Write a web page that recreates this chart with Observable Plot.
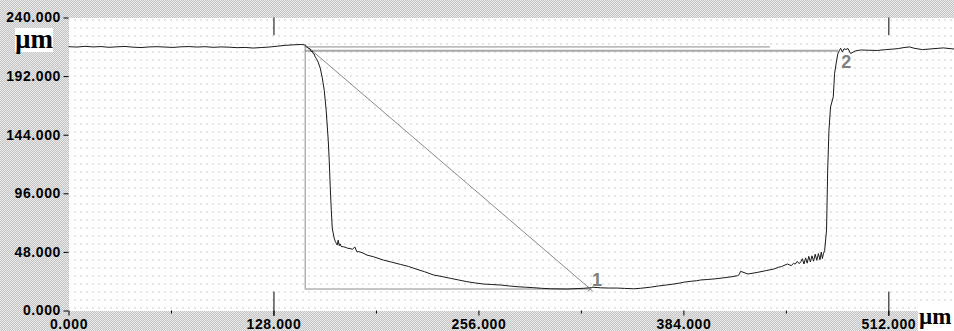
<!DOCTYPE html>
<html>
<head>
<meta charset="utf-8">
<script src="https://cdn.jsdelivr.net/npm/d3@7"></script>
<script src="https://cdn.jsdelivr.net/npm/@observablehq/plot@0.6"></script>
<style>
  html, body { margin: 0; padding: 0; background: #fff; }
  #wrap { position: relative; width: 954px; height: 331px; overflow: hidden;
    background: repeating-conic-gradient(#c4c4c4 0 25%, #e9e9e9 0 50%) 0 0 / 2px 2px; }
  #wrap svg { display: block; background: transparent !important; }
  .unit { position: absolute; background: #fff; font-family: "Liberation Serif", "DejaVu Serif", serif;
    font-weight: bold; font-size: 27px; line-height: 22px; color: #000; }
</style>
</head>
<body>
<div id="wrap"></div>
<script>
// ---- data (µm) ----
const profileX = [0,5,10,15,20,25,30,35,40,45,50,55,60,65,70,75,80,85,90,95,100,105,110,115,120,125,130,135,140,145,147,
  148.3,149.4,150.6,151.2,151.9,152.5,153.1,153.8,154.4,155.6,156.9,158.1,159.4,160.6,161.9,162.5,163.1,163.8,164.4,165.6,166.3,166.9,167.5,168.1,168.8,169.4,170,171.4,173,174,175.5,177,178.5,179.8,181,183,186.1,190,196.4,201,206.9,212,217.3,222,227.7,233,238.1,243,248.5,254,258.9,264,269.4,275,279.8,285,290.2,295,300.6,306,311.1,316,321.5,325,327.7,332,337,342.3,347,352.7,357,363.1,368,373.6,377.7,381,384,388.1,392,394.4,398.6,404,409,414,417.5,418.5,419.4,424,429.8,435,440.2,443,445,448.6,451,452.5,453.5,454.8,456,457,458,459,460,461,462,463,464,465,466,467,468,469,469.8,470.5,471.1,471.9,473.1,473.8,474.6,475.6,477.3,478.1,479.4,480.2,481.2,481.9,483,484,485.2,486.5,488.1,491,494.4,499,504.8,510,515.2,518,521.5,525,527.8,533,540.2,546,552.7];
const profileY = [216.5,216.2,216.8,216.3,216.6,216.0,216.4,216.7,216.1,215.8,216.3,216.5,216.2,215.9,216.4,216.6,216.2,216.5,216.0,216.3,216.1,215.7,215.9,215.4,215.8,216.2,216.9,217.6,218.0,218.3,218.0,
  216.5,215.2,214.6,212.5,213.0,210.8,210.5,208.0,207.0,203.8,198.9,191.5,180.8,164.5,139.9,123.6,103.1,82.6,67.9,59.7,57.0,55.5,54.0,58.0,53.5,55.0,52.8,52.6,52.0,51.4,51.2,50.5,52.5,48.5,48.6,47.8,45.8,44.5,41.7,40.2,38.2,36.5,34.1,32.2,29.5,28.2,26.8,25.5,24.0,22.9,22.1,21.7,21.3,20.5,19.9,19.5,19.1,18.6,18.2,18.1,18.0,18.3,18.6,19.0,19.4,19.0,18.8,18.8,18.5,18.2,18.6,19.5,20.5,21.4,22.1,22.8,23.6,24.3,24.8,25.4,25.8,26.4,27.2,28.1,28.9,29.7,32.5,30.3,31.6,33.0,34.4,35.8,36.4,38.5,37.2,39.0,38.4,40.6,38.8,40.3,42.8,38.5,43.5,39.2,44.8,40.2,45.2,40.8,46.5,41.5,47.0,42.0,48.2,43.0,46.8,49.5,66.3,115.4,148.1,167.2,175.4,194.5,205.4,210.9,213.6,215.2,212.2,214.8,214.2,215.0,210.9,213.0,213.8,213.6,213.4,214.1,214.6,215.0,215.8,216.3,215.2,214.1,214.9,215.5,214.6,212.2];

const yTicks = [0, 48, 96, 144, 192, 240];
const xTicks = [0, 128, 256, 384, 512];
const xMinorTicks = [64, 192, 320, 448];
const cursorTicks = [128, 512];

// measurement cursors
const leftX = 147.5, leftY = 218.0;
const cursor1 = {x: 325.6, y: 18.0, label: "1"};
const cursor2 = {x: 480.6, y: 213.2, label: "2"};
const refLineEnd = 438;
const refLineY = 216.3;

const profile = profileX.map((x, i) => ({x, y: profileY[i]}));
const fmt = d => d.toFixed(3);

const chart = Plot.plot({
  width: 954,
  height: 331,
  marginLeft: 68.5,
  marginRight: 0,
  marginTop: 17.5,
  marginBottom: 20.5,
  x: {domain: [0, 553]},
  y: {domain: [0, 240]},
  style: {fontFamily: "'Liberation Sans', Arial, sans-serif", fontWeight: "bold", fontSize: "14px", letterSpacing: "0.6px", overflow: "visible", background: "transparent"},
  marks: [
    Plot.frame({fill: "url(#dots)", stroke: null}),
    Plot.axisY({ticks: yTicks, tickFormat: fmt, tickSize: 5, tickPadding: 3, label: null, stroke: "#000", color: "#000"}),
    Plot.axisX({ticks: xTicks, tickFormat: fmt, tickSize: 5, tickPadding: 3, label: null, color: "#000"}),
    Plot.axisX({ticks: xMinorTicks, tickSize: 3, text: null, label: null}),
    // cursor ticks (top and bottom)
    Plot.ruleX(cursorTicks, {x: d => d, y1: 225.5, y2: 240, stroke: "#000"}),
    Plot.ruleX(cursorTicks, {x: d => d, y1: -4.5, y2: 15.5, stroke: "#000"}),
    // measurement construction lines
    Plot.ruleY([cursor2.y], {x1: leftX, x2: cursor2.x, stroke: "#a9a9a9", strokeWidth: 2}),
    Plot.ruleY([refLineY], {x1: leftX, x2: refLineEnd, stroke: "#8a8a8a", strokeWidth: 1}),
    Plot.ruleX([leftX], {y1: cursor1.y, y2: leftY, stroke: "#8a8a8a"}),
    Plot.ruleY([cursor1.y], {x1: leftX, x2: cursor1.x, stroke: "#8a8a8a"}),
    Plot.link([{x1: leftX, y1: leftY, x2: cursor1.x, y2: cursor1.y}], {x1: "x1", y1: "y1", x2: "x2", y2: "y2", stroke: "#8a8a8a"}),
    // profile
    Plot.line(profile, {x: "x", y: "y", stroke: "#1a1a1a", strokeWidth: 1}),
    // cursor markers
    Plot.dot([cursor1], {x: "x", y: "y", symbol: "times", r: 2.5, stroke: "#777", strokeWidth: 1}),
    Plot.text([cursor1], {x: "x", y: "y", text: "label", dx: 7, dy: -9, fill: "#808080", fontSize: 18, fontWeight: "bold"}),
    Plot.text([cursor2], {x: "x", y: "y", text: "label", dx: 8, dy: 12, fill: "#808080", fontSize: 18, fontWeight: "bold"})
  ]
});

const svg = chart.tagName.toLowerCase() === "svg" ? chart : chart.querySelector("svg");
d3.select(svg).insert("defs", ":first-child").html(`
  <pattern id="dots" x="0" y="0" width="6" height="8" patternUnits="userSpaceOnUse">
    <rect width="6" height="8" fill="#ffffff"/>
    <rect x="2" y="3" width="1" height="1" fill="#9a9a9a"/>
  </pattern>`);

const wrap = document.getElementById("wrap");
wrap.appendChild(chart);

const yUnit = document.createElement("div");
yUnit.className = "unit";
yUnit.textContent = "µm";
Object.assign(yUnit.style, {left: "15px", top: "28px", width: "38px", height: "24px", textAlign: "center"});
wrap.appendChild(yUnit);

const xUnit = document.createElement("div");
xUnit.className = "unit";
xUnit.textContent = "µm";
Object.assign(xUnit.style, {left: "918px", top: "307px", width: "36px", height: "24px", paddingLeft: "1px", fontSize: "23px", lineHeight: "20px", boxSizing: "border-box"});
wrap.appendChild(xUnit);
</script>
</body>
</html>
